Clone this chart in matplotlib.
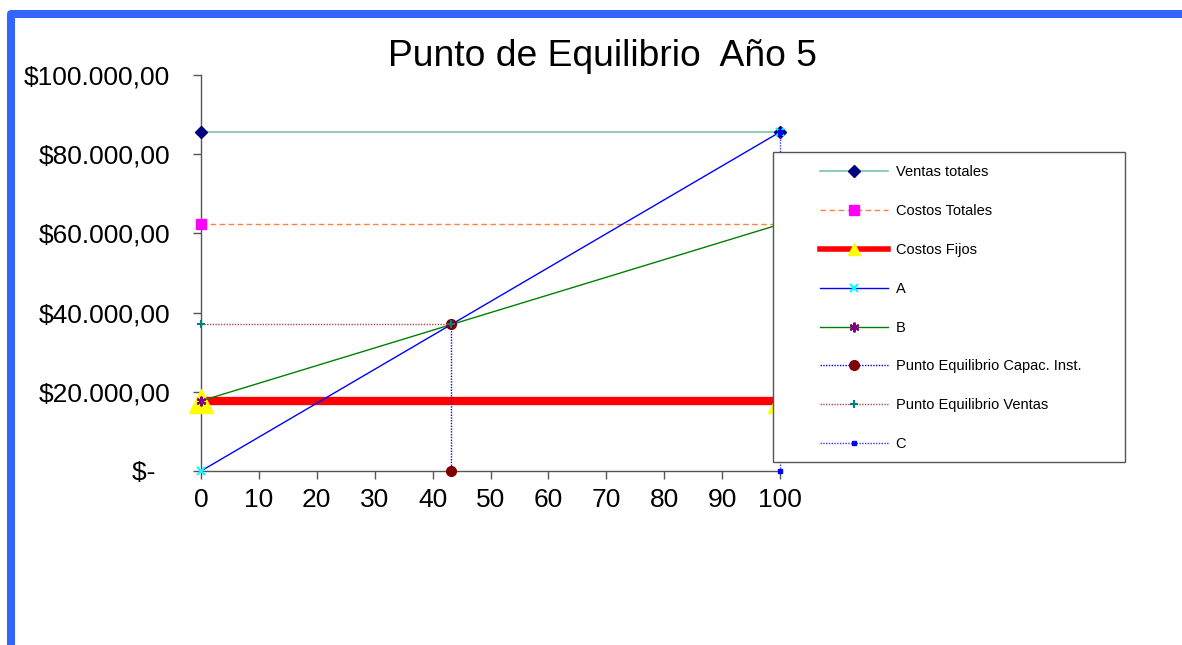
import matplotlib
matplotlib.use("Agg")
import matplotlib.pyplot as plt
from matplotlib.lines import Line2D
from matplotlib.patches import Rectangle

plt.rcParams['font.family'] = ['Liberation Sans', 'DejaVu Sans']

# --- data -------------------------------------------------------------
x_ticks = [0, 10, 20, 30, 40, 50, 60, 70, 80, 90, 100]
y_ticks = [0, 20000, 40000, 60000, 80000, 100000]
y_tick_labels = ["$-  ", "$20.000,00", "$40.000,00", "$60.000,00",
                 "$80.000,00", "$100.000,00"]

capacity = [0, 100]                 # % of installed capacity
ventas_totales = [85600, 85600]
costos_totales = [62300, 62300]
costos_fijos = [17700, 17700]
recta_a = [0, 85600]                # sales line
recta_b = [17700, 62300]            # total cost line
pe_capacidad = 43.2                 # break-even, % capacity
pe_ventas = 37000                   # break-even, sales
pe_capac_x = [pe_capacidad, pe_capacidad]
pe_capac_y = [0, pe_ventas]
pe_ventas_x = [0, pe_capacidad]
pe_ventas_y = [pe_ventas, pe_ventas]
c_x = [100, 100]
c_y = [0, 85600]

labels = ["Ventas totales", "Costos Totales", "Costos Fijos", "A", "B",
          "Punto Equilibrio Capac. Inst.", "Punto Equilibrio Ventas", "C"]

W, H = 1182, 645
fig = plt.figure(figsize=(W / 100, H / 100), dpi=100)
ax = fig.add_axes([201 / W, 1 - 471 / H, 579 / W, 396 / H])

asterisk = (6, 2, 0)
styles = [
    dict(color='#7CC4A4', lw=1.2, ls='-', marker='D', mfc='#000080', mec='#000080', ms=6),
    dict(color='#FF8040', lw=1.0, ls=(0, (4, 2.5)), marker='s', mfc='#FF00FF', mec='#FF00FF', ms=7),
    dict(color='#FF0000', lw=6.0, ls='-', marker='^', mfc='#FFFF00', mec='#FFFF00', ms=17),
    dict(color='#0000FF', lw=1.0, ls='-', marker='x', mfc='#00FFFF', mec='#00FFFF', ms=6, mew=1.5),
    dict(color='#008000', lw=1.0, ls='-', marker=asterisk, mfc='#800080', mec='#800080', ms=7, mew=1.5),
    dict(color='#0000FF', lw=1.0, ls=(0, (1, 1)), marker='o', mfc='#800000', mec='#800000', ms=7),
    dict(color='#B04848', lw=1.0, ls=(0, (1, 1)), marker='+', mfc='#008080', mec='#008080', ms=6, mew=1.5),
    dict(color='#3333FF', lw=1.0, ls=(0, (1, 1)), marker='s', mfc='#0000FF', mec='#0000FF', ms=2.5),
]
series = [
    (capacity, ventas_totales),
    (capacity, costos_totales),
    (capacity, costos_fijos),
    (capacity, recta_a),
    (capacity, recta_b),
    (pe_capac_x, pe_capac_y),
    (pe_ventas_x, pe_ventas_y),
    (c_x, c_y),
]

for i, ((xs, ys), st) in enumerate(zip(series, styles)):
    ax.plot(xs, ys, clip_on=False, zorder=3 + i, **st)

ax.set_xlim(0, 100)
ax.set_ylim(0, 100000)
ax.set_xticks(x_ticks)
ax.set_xticklabels([str(v) for v in x_ticks])
ax.set_yticks(y_ticks)
ax.set_yticklabels(y_tick_labels)

for side in ('top', 'right'):
    ax.spines[side].set_visible(False)
for side in ('left', 'bottom'):
    ax.spines[side].set_color('#555555')
    ax.spines[side].set_linewidth(1.0)
ax.tick_params(axis='both', direction='out', length=5.5, width=1.0,
               color='#555555', labelsize=19, labelcolor='black')
ax.tick_params(axis='y', pad=16.5)
ax.tick_params(axis='x', pad=7)

fig.text(603 / W, 1 - 57 / H, "Punto de Equilibrio  Año 5", fontsize=26.8,
         ha='center', va='center')

# legend box (drawn over the plot area)
fig.patches.append(Rectangle((773 / W, 1 - 462 / H), 352 / W, 310 / H,
                             transform=fig.transFigure, facecolor='white',
                             edgecolor='#555555', lw=1.0, zorder=5))

legend_sizes = [6, 7, 8, 6, 7, 7, 6, 3]
handles = []
for st, ms in zip(styles, legend_sizes):
    s = dict(st)
    s['ms'] = ms
    if s['lw'] > 3:
        s['lw'] = 4.0
    handles.append(Line2D([], [], **s))

leg = fig.legend(handles, labels, loc='upper left',
                 bbox_to_anchor=(820 / W, 1 - 165.5 / H),
                 frameon=False, fontsize=10.5, borderpad=0, borderaxespad=0,
                 handlelength=4.64, handletextpad=0.55, labelspacing=1.7,
                 numpoints=1)
leg.set_zorder(6)

# blue frame around the chart
frame = Line2D([11 / W, 11 / W, 1.05], [-0.05, 1 - 14 / H, 1 - 14 / H],
               transform=fig.transFigure, color='#3366FF', lw=5.8,
               solid_joinstyle='round', clip_on=False)
fig.lines.append(frame)

fig.savefig("out.png", dpi=100, facecolor='white')
